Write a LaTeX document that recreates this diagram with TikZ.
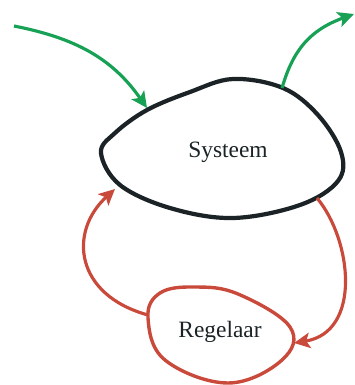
\documentclass[tikz,border=0pt]{standalone}
\usepackage{fontspec}
\setmainfont{Liberation Serif}
\usepackage{tikz}
\usetikzlibrary{arrows.meta,positioning}
\definecolor{inkdark}{HTML}{1B2326}
\definecolor{flowgreen}{HTML}{16A155}
\definecolor{loopred}{HTML}{C94A3A}
\tikzset{
  blob/.style={line width=3.6pt, line join=round},
  lbl/.style={font=\fontsize{20}{23}\selectfont, text=inkdark},
  flow/.style={-{Stealth[length=4.8mm, width=4.6mm, inset=1.1mm]}, line width=2.7pt, draw=flowgreen},
  fb/.style={-{Stealth[length=4.8mm, width=4.6mm, inset=1.1mm]}, line width=2.7pt, draw=loopred},
}

\begin{document}
\begin{tikzpicture}[x=0.03cm, y=-0.03cm]
        \useasboundingbox (0,0) rectangle (354,385);
        % systeem
        \draw[blob, draw=inkdark] plot[smooth cycle, tension=0.6] coordinates {
          (101,153) (115,133) (147,110) (190,92) (233,79) (283,88) (318,115)
          (341,152) (338,181) (300,205) (233,218) (170,208) (120,185)};
        \node[lbl] (sys) at (228,152) {Systeem};
        % regelaar
        \draw[blob, draw=loopred, line width=2.9pt] plot[smooth cycle, tension=0.65] coordinates {
          (148,318) (160,293) (195,287) (238,294) (290,327) (282,360)
          (228,383) (165,360)};
        \node[lbl] (reg) at (220,332) {Regelaar};
        % aansluitpunten
        \coordinate (in) at (14,26);
        \coordinate (sysin) at (147,108);
        \coordinate (sysout) at (282,88);
        \coordinate (out) at (354,14);
        \coordinate (sysl) at (115,189);
        \coordinate (sysr) at (317,198);
        \coordinate (regl) at (148,315);
        \coordinate (regr) at (294,343);
        \draw[flow] (in) .. controls (75,38) and (112,58) .. (sysin);
        \draw[flow] (sysout) .. controls (293,50) and (310,30) .. (out);
        \draw[fb] (regl) .. controls (75,295) and (68,232) .. (sysl);
        \draw[fb] (sysr) .. controls (352,240) and (362,332) .. (regr);
      \end{tikzpicture}
\end{document}
